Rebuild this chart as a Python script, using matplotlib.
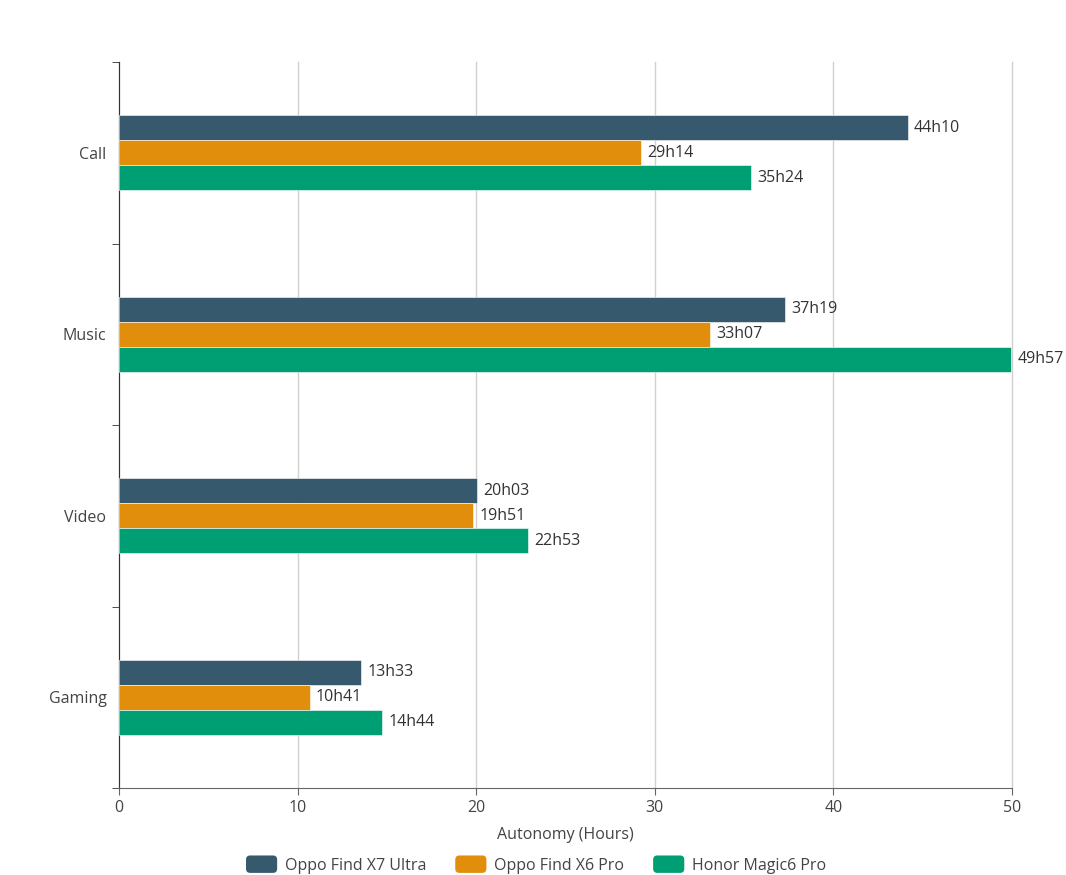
import numpy as np
import matplotlib.pyplot as plt
from matplotlib.patches import Patch, FancyBboxPatch
from matplotlib.legend_handler import HandlerPatch

plt.rcParams["font.family"] = ["Open Sans", "DejaVu Sans"]

categories = ["Call", "Music", "Video", "Gaming"]
series = ["Oppo Find X7 Ultra", "Oppo Find X6 Pro", "Honor Magic6 Pro"]
colors = ["#36596e", "#e08e0b", "#009e73"]
labels = [
    ["44h10", "37h19", "20h03", "13h33"],
    ["29h14", "33h07", "19h51", "10h41"],
    ["35h24", "49h57", "22h53", "14h44"],
]


def to_hours(s):
    h, m = s.split("h")
    return int(h) + int(m) / 60


values = [[to_hours(s) for s in row] for row in labels]


class RoundHandler(HandlerPatch):
    def create_artists(self, legend, orig_handle, xdescent, ydescent,
                       width, height, fontsize, trans):
        p = FancyBboxPatch((-xdescent, -ydescent), width, height,
                           boxstyle="round,pad=0,rounding_size=3",
                           facecolor=orig_handle.get_facecolor(),
                           edgecolor="none", transform=trans)
        return [p]


fig = plt.figure(figsize=(10.66, 8.75), dpi=100)
ax = fig.add_axes([0.1116, 0.0994, 0.8377, 0.8297])

n = len(categories)
y = np.arange(n)
bar_h = 0.138
for i, (name, vals) in enumerate(zip(series, values)):
    pos = y + (i - 1) * bar_h
    ax.barh(pos, vals, height=bar_h, color=colors[i], edgecolor="white",
            linewidth=0.4, zorder=3, label=name)
    for p, v, t in zip(pos, vals, labels[i]):
        ax.text(v + 0.35, p, t, va="center", ha="left", fontsize=11.5,
                color="#333333", zorder=4)

ax.set_ylim(n - 0.5, -0.5)
ax.set_xlim(0, 50)
ax.set_yticks(y)
ax.set_yticklabels(categories, fontsize=11.5, color="#444444")
ax.set_yticks(np.arange(-0.5, n, 1), minor=True)
ax.tick_params(axis="y", which="major", length=0, pad=9)
ax.tick_params(axis="y", which="minor", length=5, color="#333333")
ax.set_xticks(range(0, 51, 10))
ax.tick_params(axis="x", length=5, color="#666666", labelsize=11.5,
               labelcolor="#444444")
ax.grid(axis="x", color="#d0d0d0", linewidth=1, zorder=0)
for line in ax.get_xgridlines():
    line.set_clip_on(False)
for s in ["top", "right"]:
    ax.spines[s].set_visible(False)
ax.spines["left"].set_color("#333333")
ax.spines["bottom"].set_color("#666666")
ax.set_xlabel("Autonomy (Hours)", fontsize=11.5, color="#444444", labelpad=8)

handles = [Patch(facecolor=c, edgecolor=c, label=s) for s, c in zip(series, colors)]
fig.legend(handles=handles, loc="center", bbox_to_anchor=(0.503, 0.012),
           ncol=3, frameon=False, fontsize=11.5, handlelength=1.95,
           handleheight=1.3, handletextpad=0.5, columnspacing=1.8,
           labelcolor="#444444", handler_map={Patch: RoundHandler()})

fig.savefig("out.png", dpi=100)
